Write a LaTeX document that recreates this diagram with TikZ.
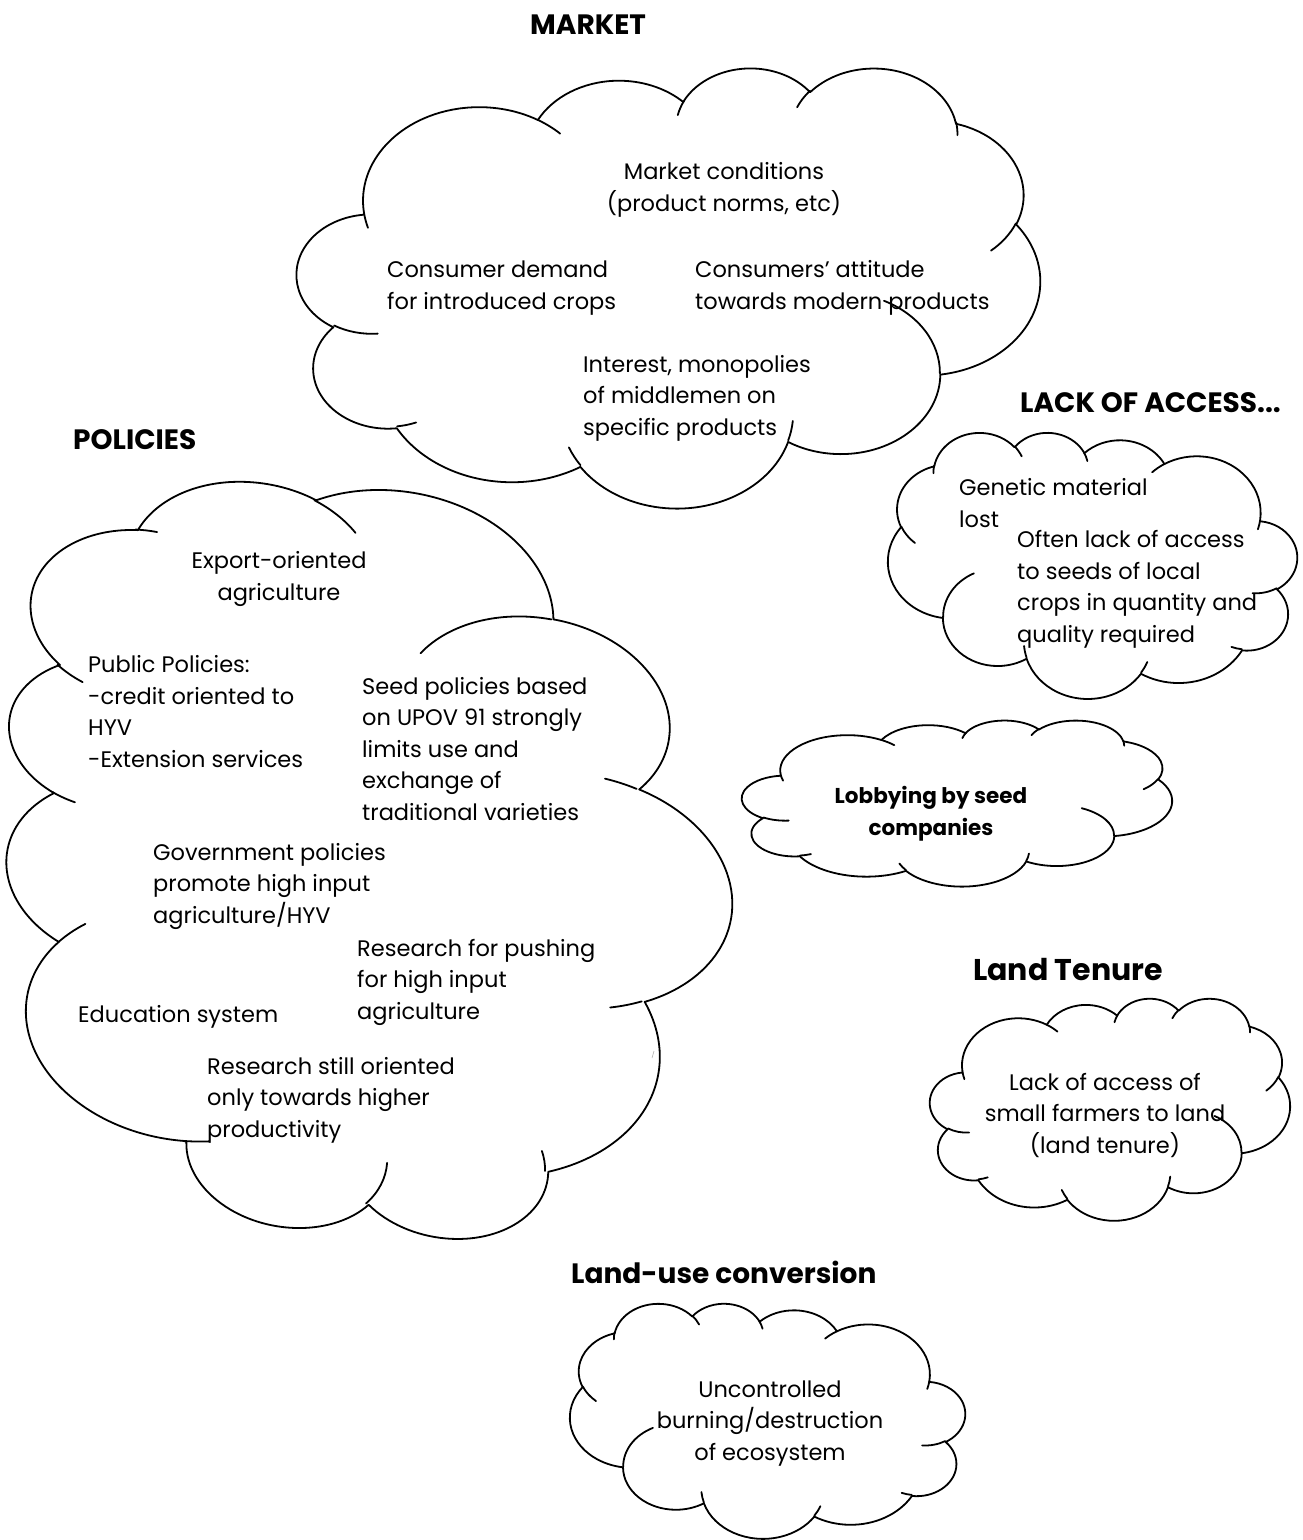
\documentclass[tikz,border=0pt]{standalone}
\usepackage{fontspec}
\setmainfont{Poppins}

\tikzset{
  puff/.style={line width=1.8pt, line join=round, line cap=round},
  txt/.style={font=\fontsize{22.5}{31.5}\selectfont, inner sep=0pt, align=left, anchor=base west},
  ctxt/.style={txt, align=center, anchor=base},
  head/.style={font=\fontsize{28}{34}\selectfont\bfseries, inner sep=0pt, anchor=base west}
}

% word-style cloud: #1,#2 centre, #3 width, #4 height, #5 rotation, #6 flip (1 or -1)
\newcommand\wordcloud[6]{%
  \begin{scope}[shift={(#1,#2)}, rotate=#5, xscale=#6*#3/432, yscale=#4/432, shift={(-216,-216)}]
    \filldraw[puff, fill=white] (39,143.7)
      \foreach \rx/\ry/\sa/\sw [evaluate=\sa as \ta using {atan2(\rx*sin(\sa),\ry*cos(\sa))},
                              evaluate=\sa as \tb using {atan2(\rx*sin(\sa+\sw),\ry*cos(\sa+\sw))},
                              evaluate=\sa as \ua using {-(\ta)},
                              evaluate=\sa as \ub using {-(\tb)-360*((\tb)<(\ta))}] in
        {67.53/91.90/-190.487/123.781, 53.33/72.67/-144.102/89.945,
         43.65/59.45/-145.808/99.723, 48.57/65.95/-130.986/117.242,
         53.33/72.73/-78.709/109.027, 67.75/92.20/-46.267/130.269,
         57.85/78.67/0.625/114.033, 67.52/92.15/22.452/115.173,
         77.20/105.43/66.243/75.711, 43.60/59.18/-274.942/146.736,
         43.45/59.45/-246.829/152.519}
      { arc[start angle=\ua, end angle=\ub, x radius=\rx pt, y radius=\ry pt] } -- cycle;
    \draw[puff]
      \foreach \hx/\hy/\rx/\ry/\sa/\sw [evaluate=\sa as \ta using {atan2(\rx*sin(\sa),\ry*cos(\sa))},
                              evaluate=\sa as \tb using {atan2(\rx*sin(\sa+\sw),\ry*cos(\sa+\sw))},
                              evaluate=\sa as \ua using {-(\ta)},
                              evaluate=\sa as \ub using {-(\tb)-360*((\tb)<(\ta))}] in
        {46.93/261.77/43.45/59.45/86.742/26.430, 69.28/348.99/43.60/59.18/73.610/11.447,
         164.78/390.90/67.52/92.15/137.624/14.081, 288.27/347.51/67.52/92.15/6.453/15.998,
         341.29/229.54/57.85/78.67/-70.292/70.917, 417.98/153.54/53.33/72.73/30.318/27.752,
         383.24/54.26/48.57/65.95/-13.744/14.859, 290.78/39.52/48.57/65.95/-149.181/18.195,
         221.41/47.20/43.65/59.45/-163.494/17.686, 140.00/51.92/67.53/91.90/-66.707/12.319,
         41.27/157.89/67.53/91.90/157.654/11.858}
      { (\hx,\hy) arc[start angle=\ua, end angle=\ub, x radius=\rx pt, y radius=\ry pt] };
  \end{scope}}

\begin{document}
\begin{tikzpicture}[x=1pt, y=-1pt]
  \useasboundingbox (0,0) rectangle (1302,1540);

  % clouds
  \wordcloud{668.5}{287}{743}{440}{0}{1}
  \wordcloud{360}{862}{745}{745}{80}{1}
  \wordcloud{1092.5}{565}{409}{266}{0}{-1}
  \wordcloud{957}{803}{430}{166}{0}{1}
  \wordcloud{1110}{1109}{360}{222}{0}{1}
  \wordcloud{767.5}{1420.5}{395}{235}{0}{-1}
  \draw[gray!60, line width=0.6pt] (652,1058) -- (654,1051);

  % market (node y = baseline of the last line)
  \node[head] (market) at (530,34) {MARKET};
  \node[ctxt] (mktcond) at (724,211) {Market conditions\\(product norms, etc)};
  \node[txt] (consdemand) at (387,309) {Consumer demand\\for introduced crops};
  \node[txt] (consatt) at (695,309) {Consumers’ attitude\\towards modern products};
  \node[txt] (middlemen) at (583,435) {Interest, monopolies\\of middlemen on\\specific products};

  % policies
  \node[head] (policies) at (73,449) {POLICIES};
  \node[ctxt] (export) at (279,600) {Export-oriented\\agriculture};
  \node[txt] (public) at (88,767) {Public Policies:\\-credit oriented to\\HYV\\-Extension services};
  \node[txt] (seedpol) at (362,820) {Seed policies based\\on UPOV 91 strongly\\limits use and\\exchange of\\traditional varieties};
  \node[txt] (govpol) at (153,923) {Government policies\\promote high input\\agriculture/HYV};
  \node[txt] (resinput) at (357,1019) {Research for pushing\\for high input\\agriculture};
  \node[txt] (educ) at (78,1022) {Education system};
  \node[txt] (resprod) at (207,1137) {Research still oriented\\only towards higher\\productivity};

  % lack of access
  \node[head] (access) at (1020,412) {LACK OF ACCESS...};
  \node[txt] (genetic) at (959,527) {Genetic material\\lost};
  \node[txt] (seedacc) at (1017,642) {Often lack of access\\to seeds of local\\crops in quantity and\\quality required};
  \node[ctxt, font=\fontsize{21.5}{31.5}\selectfont\bfseries] (lobby) at (931,835) {Lobbying by seed\\companies};

  % land
  \node[head, font=\fontsize{30}{34}\selectfont\bfseries] (tenure) at (973,980) {Land Tenure};
  \node[ctxt] (landacc) at (1105,1153) {Lack of access of\\small farmers to land\\(land tenure)};
  \node[head, font=\fontsize{28}{34}\selectfont\bfseries] (landuse) at (571,1283) {Land-use conversion};
  \node[ctxt] (burning) at (770,1460) {Uncontrolled\\burning/destruction\\of ecosystem};
\end{tikzpicture}
\end{document}
